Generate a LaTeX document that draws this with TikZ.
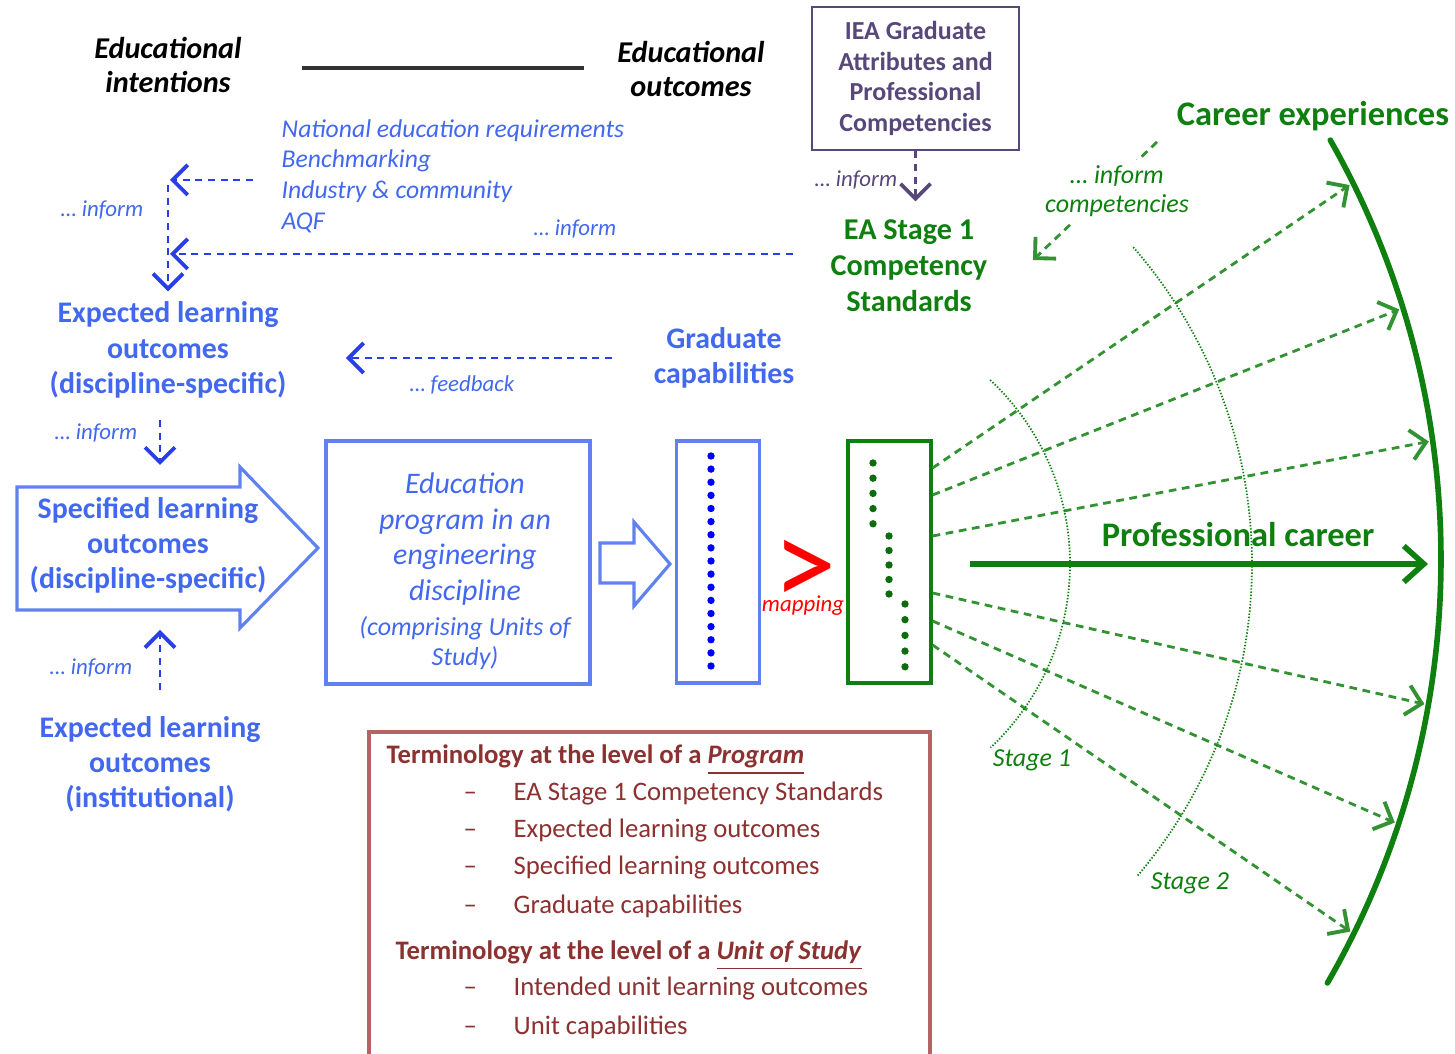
\documentclass[tikz,border=0pt]{standalone}
\usepackage{fontspec}
\setmainfont{Carlito}
\usepackage{tikz}
\usetikzlibrary{calc}
\usetikzlibrary{positioning}
\usetikzlibrary{arrows.meta}

\definecolor{eablue}{RGB}{66,104,240}
\definecolor{eadash}{RGB}{40,62,232}
\definecolor{eaframe}{RGB}{95,130,240}
\definecolor{eagreen}{RGB}{15,128,15}
\definecolor{eapurple}{RGB}{88,72,122}
\definecolor{earust}{RGB}{140,48,48}
\definecolor{earustline}{RGB}{180,100,100}

\tikzset{
  barb/.style={-{Straight Barb[length=1.5mm,width=3mm,line width=1.1pt]}},
  head/.style={font=\fontsize{8.6}{9.8}\selectfont\bfseries\itshape, align=center, inner sep=0pt},
  bluehead/.style={text=eablue, font=\fontsize{8.5}{10}\selectfont\bfseries, align=center, inner sep=0pt},
  blueinf/.style={text=eablue, font=\fontsize{6.5}{7.5}\selectfont\itshape, inner sep=0pt},
  bluelist/.style={text=eablue, font=\fontsize{7.3}{8.7}\selectfont\itshape, align=left, inner sep=0pt},
  bluedash/.style={draw=eadash, line width=0.8pt, dash pattern=on 2pt off 1.6pt, barb},
  greenhead/.style={text=eagreen, font=\fontsize{8.6}{10.3}\selectfont\bfseries, align=center, inner sep=0pt},
  greenbig/.style={text=eagreen, font=\fontsize{9.8}{11}\selectfont\bfseries, inner sep=0pt},
  greeninf/.style={text=eagreen, font=\fontsize{7.4}{8.3}\selectfont\itshape, align=center, inner sep=0pt},
  greendash/.style={draw=eagreen!85, line width=0.8pt, dash pattern=on 2.2pt off 1.6pt, barb},
  stagearc/.style={draw=eagreen, line width=0.5pt, dash pattern=on 0.4pt off 0.5pt},
  iea/.style={draw=eapurple, line width=0.8pt, text=eapurple, font=\fontsize{7.4}{8.7}\selectfont\bfseries, align=center, inner sep=0pt, minimum width=2.07cm, minimum height=1.43cm},
  purpleinf/.style={text=eapurple, font=\fontsize{6.5}{7.5}\selectfont\itshape, inner sep=0pt},
  purpledash/.style={draw=eapurple, line width=0.8pt, dash pattern=on 2pt off 1.6pt, barb},
  frame/.style={draw=eaframe, line width=0.9pt},
  progtxt/.style={text=eablue, font=\fontsize{8.5}{10.2}\selectfont\itshape, align=center, inner sep=0pt},
  progsm/.style={text=eablue, font=\fontsize{7.4}{8.5}\selectfont\itshape, align=center, inner sep=0pt},
  colbox/.style={line width=0.9pt, minimum width=0.83cm, minimum height=2.42cm, inner sep=0pt},
  termhead/.style={text=earust, font=\fontsize{7.6}{9}\selectfont\bfseries, anchor=west, inner sep=0pt, text height=5.5pt, text depth=1.8pt},
  termitem/.style={text=earust, font=\fontsize{7.6}{9}\selectfont, anchor=west, inner sep=0pt, text height=5.5pt, text depth=1.8pt},
}

\begin{document}
\begin{tikzpicture}
\useasboundingbox (0,0) rectangle (14.55,10.54);

% headings
\node[head] (intent) at (1.68,9.89) {Educational\\intentions};
\node[head] (outcome) at (6.91,9.85) {Educational\\outcomes};
\coordinate (bar1) at (3.02,9.86);
\coordinate (bar2) at (5.84,9.86);
\draw[black!80, line width=0.9pt] (bar1) -- (bar2);

% IEA and EA
\node[iea] (iea) at (9.155,9.755) {IEA Graduate\\Attributes and\\Professional\\Competencies};
\node[greenhead] (ea) at (9.09,7.88) {EA Stage 1\\Competency\\Standards};
\draw[purpledash] (iea.south) -- ([yshift=5pt]iea.south |- ea.north);
\node[purpleinf] (ieainf) at (8.56,8.74) {… inform};

% career experiences
\node[greenbig] (career) at (13.13,9.38) {Career experiences};
\coordinate (cstart) at (11.57,9.12);
\coordinate (cend) at (10.33,7.94);
\draw[greendash] (cstart) -- (cend);
\node[greeninf, fill=white, inner ysep=1.5pt] (cinf) at (11.17,8.63) {… inform\\competencies};

% requirements
\node[bluelist, anchor=west] (req) at (2.81,8.78) {National education requirements\\Benchmarking\\Industry \& community\\AQF};
\coordinate (rq) at (2.53,8.74);
\coordinate (j0) at (1.68,8.69);
\coordinate (j1) at (1.70,8.74);
\coordinate (j2) at (1.70,8.00);
\draw[bluedash] (rq) -- (j1);
\draw[bluedash, shorten <=0.37cm] (ea.west |- j2) -- (j2);
\node[blueinf] (inf1) at (1.02,8.44) {… inform};
\node[blueinf] (inf2) at (5.75,8.25) {… inform};

% expected and graduate
\node[bluehead] (elo) at (1.68,7.04) {Expected learning\\outcomes\\(discipline-specific)};
\draw[bluedash] (j0) -- ([yshift=0.1cm]elo.north);
\node[bluehead] (grad) at (7.24,6.96) {Graduate\\capabilities};
\draw[bluedash, shorten <=0.41cm, shorten >=0.59cm] (grad.west) -- (grad.west -| elo.east);
\node[blueinf] (fb) at (4.62,6.69) {… feedback};

% specified outcomes
\draw[frame] (0.17,5.67) -- (2.40,5.67) -- (2.40,5.87) -- (3.18,5.06) -- (2.40,4.26) -- (2.40,4.44) -- (0.17,4.44) -- cycle;
\node[bluehead] (slo) at (1.48,5.085) {Specified learning\\outcomes\\(discipline-specific)};
\coordinate (k1) at (1.60,6.34);
\coordinate (k2) at (1.60,5.89);
\draw[bluedash] (k1) -- (k2);
\node[blueinf] (inf3) at (0.96,6.21) {… inform};
\coordinate (k3) at (1.60,3.64);
\coordinate (k4) at (1.60,4.24);
\draw[bluedash] (k3) -- (k4);
\node[blueinf] (inf4) at (0.91,3.86) {… inform};
\node[bluehead] (elo2) at (1.50,2.90) {Expected learning\\outcomes\\(institutional)};

% program
\node[frame, minimum width=2.64cm, minimum height=2.43cm] (prog) at (4.58,4.915) {};
\node[progtxt] (progt) at (4.65,5.15) {Education\\program in an\\engineering\\discipline};
\node[progsm] (progs) at (4.65,4.11) {(comprising Units of\\Study)};
\draw[frame] (6.00,5.11) -- (6.34,5.11) -- (6.34,5.32) -- (6.70,4.90) -- (6.34,4.48) -- (6.34,4.71) -- (6.00,4.71) -- cycle;

% capability columns
\node[colbox, draw=eaframe] (gcol) at (7.18,4.92) {};
\foreach \i in {0,...,16}
  \fill[blue] (7.11,5.98-0.13125*\i) circle (0.037);
\node[text=red, font=\fontsize{36}{36}\selectfont, inner sep=0pt, text height=0.6em, text depth=0pt] (gt) at (8.05,4.58) {>};
\node[text=red, font=\fontsize{6.5}{7}\selectfont\itshape, inner sep=0pt] (map) at (8.03,4.48) {mapping};
\node[colbox, draw=eagreen] (ccol) at (8.895,4.92) {};
\foreach \x/\y/\s in {8.73/5.91/0.152, 8.89/5.18/0.145, 9.05/4.50/0.157}
  \foreach \i in {0,...,4}
    \fill[eagreen!85!black] (\x,\y-\s*\i) circle (0.037);

% career fan
\coordinate (C) at (5.93,4.95);
\foreach \dy/\a in {0.94/26.3, 0.67/17.2, 0.26/8.0, -0.31/-9.9, -0.59/-18.2, -0.83/-26.2}
  \draw[greendash] ([yshift=\dy cm]ccol.east) -- ($(C)+(\a:8.44)$);
\draw[eagreen, line width=1.6pt, line cap=round] (C) ++(29.6:8.48) arc[start angle=29.6, end angle=-30.0, radius=8.48cm];
\draw[stagearc] (8.18,4.90) ++(46.9:2.52) arc[start angle=46.9, end angle=-46.8, radius=2.52cm];
\draw[stagearc] (7.70,4.90) ++(41.1:4.82) arc[start angle=41.1, end angle=-40.4, radius=4.82cm];
\node[greeninf] (st1) at (10.32,2.94) {Stage 1};
\node[greeninf] (st2) at (11.90,1.71) {Stage 2};
\coordinate (pc1) at (9.70,4.90);
\coordinate (pc2) at (14.28,4.90);
\draw[eagreen, line width=1.6pt, -{Straight Barb[length=2mm,width=3.6mm]}] (pc1) -- (pc2);
\node[greenbig] (prof) at (12.38,5.19) {Professional career};

% terminology
\draw[earustline, line width=0.9pt] (3.69,0) -- (3.69,3.22) -- (9.30,3.22) -- (9.30,0);
\node[termhead] (th1) at (3.86,2.97) {Terminology at the level of a \underline{\textit{Program}}};
\foreach \y/\t [count=\i] in {2.60/EA Stage 1 Competency Standards, 2.23/Expected learning outcomes, 1.86/Specified learning outcomes, 1.47/Graduate capabilities}
{
  \node[termitem] (pd\i) at (4.63,\y) {–};
  \node[termitem] (pt\i) at (5.13,\y) {\t};
}
\node[termhead] (th2) at (3.95,1.01) {Terminology at the level of a \underline{\textit{Unit of Study}}};
\foreach \y/\t [count=\i] in {0.65/Intended unit learning outcomes, 0.26/Unit capabilities}
{
  \node[termitem] (ud\i) at (4.63,\y) {–};
  \node[termitem] (ut\i) at (5.13,\y) {\t};
}

\end{tikzpicture}
\end{document}
